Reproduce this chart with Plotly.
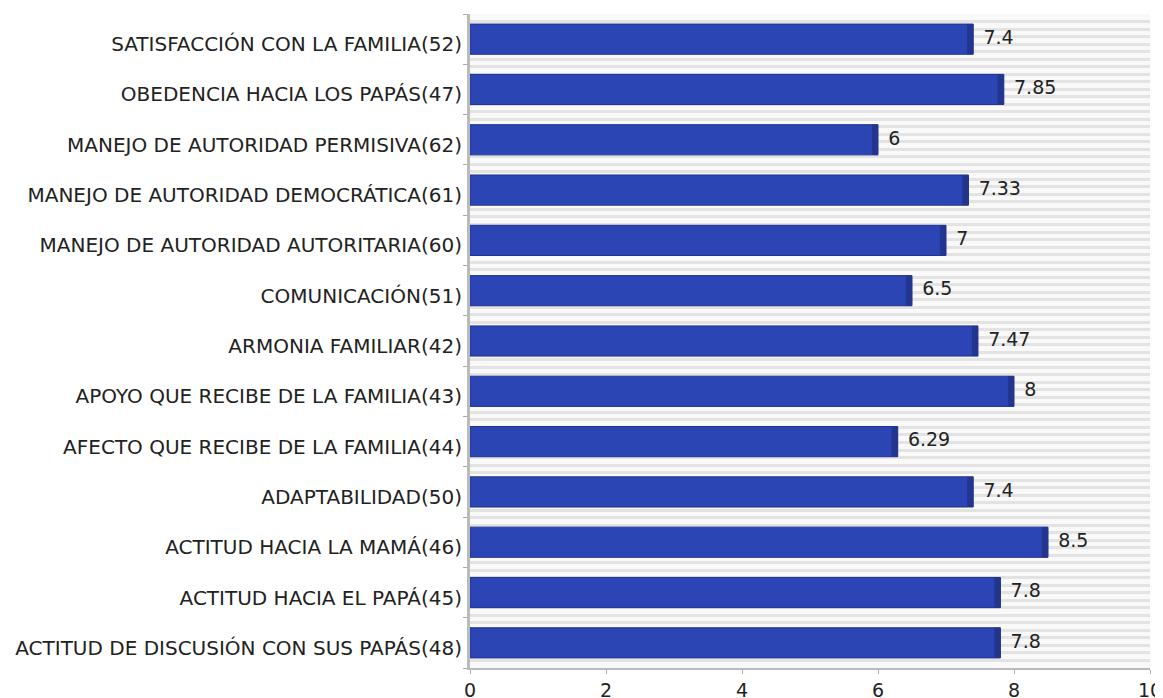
import plotly.graph_objects as go

categories = [
    "SATISFACCIÓN CON LA FAMILIA(52)",
    "OBEDENCIA HACIA LOS PAPÁS(47)",
    "MANEJO DE AUTORIDAD PERMISIVA(62)",
    "MANEJO DE AUTORIDAD DEMOCRÁTICA(61)",
    "MANEJO DE AUTORIDAD AUTORITARIA(60)",
    "COMUNICACIÓN(51)",
    "ARMONIA FAMILIAR(42)",
    "APOYO QUE RECIBE DE LA FAMILIA(43)",
    "AFECTO QUE RECIBE DE LA FAMILIA(44)",
    "ADAPTABILIDAD(50)",
    "ACTITUD HACIA LA MAMÁ(46)",
    "ACTITUD HACIA EL PAPÁ(45)",
    "ACTITUD DE DISCUSIÓN CON SUS PAPÁS(48)",
]
values = [7.4, 7.85, 6, 7.33, 7, 6.5, 7.47, 8, 6.29, 7.4, 8.5, 7.8, 7.8]
value_labels = ["7.4", "7.85", "6", "7.33", "7", "6.5", "7.47", "8", "6.29", "7.4", "8.5", "7.8", "7.8"]
x_ticks = [0, 2, 4, 6, 8, 10]

FONT = "DejaVu Sans"
FSIZE = 20
edge_w = 0.09

fig = go.Figure()
# main bars
fig.add_trace(go.Bar(
    y=categories, x=values, orientation="h",
    marker=dict(color="#2B46B4", line=dict(color="#1E3290", width=1)),
    width=0.6, hoverinfo="skip",
))
# darker right edge
fig.add_trace(go.Bar(
    y=categories, x=[edge_w] * len(values), base=[v - edge_w for v in values],
    orientation="h",
    marker=dict(color="#22358F", line=dict(width=0)),
    width=0.6, hoverinfo="skip",
))
# value labels
fig.add_trace(go.Scatter(
    y=categories, x=[v + 0.15 for v in values], mode="text",
    text=value_labels, textposition="middle right",
    textfont=dict(family=FONT, size=19, color="#222222"),
    hoverinfo="skip", cliponaxis=False,
))
# background stripes via secondary axis gridlines
fig.add_trace(go.Scatter(x=[None], y=[None], yaxis="y2", showlegend=False, hoverinfo="skip"))

fig.update_layout(
    width=1155, height=690,
    margin=dict(l=462, r=13, t=6, b=30, autoexpand=False),
    paper_bgcolor="white",
    plot_bgcolor="#F9F9F9",
    barmode="overlay",
    showlegend=False,
    font=dict(family=FONT, size=FSIZE, color="#222222"),
    xaxis=dict(
        range=[0, 10], tickvals=x_ticks, ticks="outside", ticklen=4, tickcolor="#AAAAAA",
        showgrid=False, zeroline=False, showline=True, linecolor="#BBBBBB", linewidth=2,
        tickfont=dict(family=FONT, size=19, color="#222222"), automargin=False,
        ticklabelstandoff=0,
    ),
    yaxis=dict(
        categoryorder="array", categoryarray=categories[::-1],
        autorange=False, range=[-0.5, len(categories) - 0.5],
        ticks="outside", ticklen=4, tickcolor="#AAAAAA", tickson="boundaries",
        showgrid=False, zeroline=False, showline=True, linecolor="#BBBBBB", linewidth=3,
        tickfont=dict(family=FONT, size=FSIZE, color="#222222"),
        ticklabelshift=5, ticklabelstandoff=1,
        automargin=False,
    ),
    yaxis2=dict(
        overlaying="y", range=[0, 87], dtick=1, showgrid=True, gridcolor="#E3E3E3",
        gridwidth=3, showticklabels=False, zeroline=False, showline=False, side="right",
        layer="below traces", automargin=False,
    ),
)

fig.write_html("out.html")
